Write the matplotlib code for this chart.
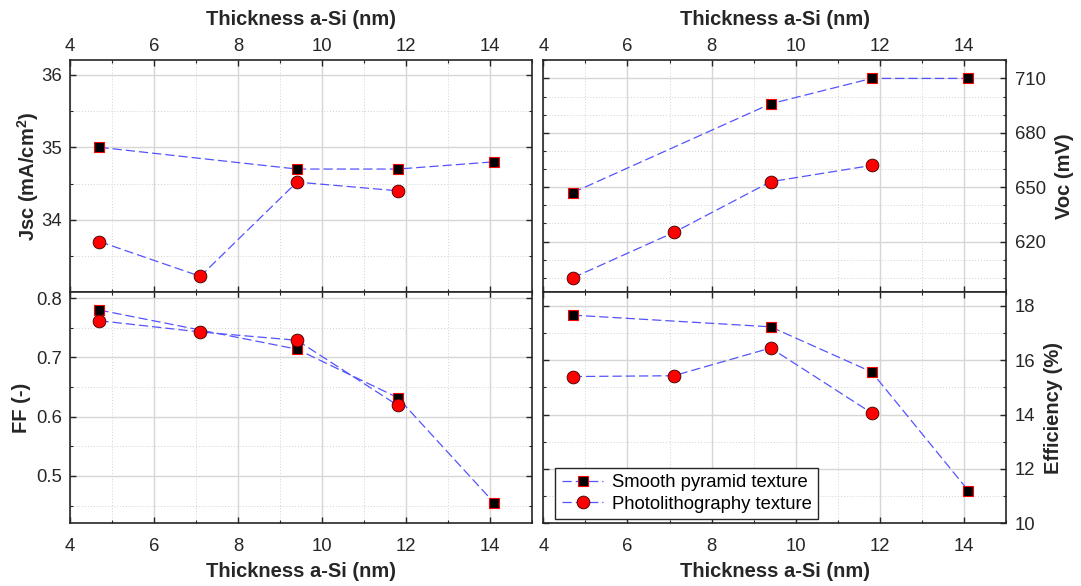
import matplotlib
matplotlib.use("Agg")
import matplotlib.pyplot as plt
from matplotlib.ticker import MultipleLocator, FixedLocator

plt.rcParams['font.family'] = ['Liberation Sans', 'DejaVu Sans']
plt.rcParams['mathtext.fontset'] = 'custom'
plt.rcParams['mathtext.rm'] = 'Liberation Sans'
plt.rcParams['mathtext.bf'] = 'Liberation Sans:bold'

# Thickness of the a-Si layer (nm) for each texture series
thickness_smooth = [4.7, 9.4, 11.8, 14.1]
thickness_photo = [4.7, 7.1, 9.4, 11.8]

# Short-circuit current density (mA/cm2)
jsc_smooth = [35.0, 34.7, 34.7, 34.8]
jsc_photo = [33.7, 33.22, 34.52, 34.40]

# Open-circuit voltage (mV)
voc_smooth = [647, 696, 710, 710]
voc_photo = [600, 625, 653, 662]

# Fill factor (-)
ff_smooth = [0.78, 0.714, 0.632, 0.454]
ff_photo = [0.762, 0.743, 0.729, 0.619]

# Efficiency (%)
eff_smooth = [17.66, 17.23, 15.57, 11.2]
eff_photo = [15.40, 15.43, 16.45, 14.06]

series_labels = ["Smooth pyramid texture", "Photolithography texture"]
xlabel = "Thickness a-Si (nm)"

# Labelled y ticks of each panel
jsc_ticks = [34, 35, 36]
voc_ticks = [620, 650, 680, 710]
ff_ticks = [0.5, 0.6, 0.7, 0.8]
eff_ticks = [10, 12, 14, 16, 18]

FS = 13.3
LABEL_FS = 14.5
LINE_COLOR = (0.33, 0.33, 1.0)
DASH = (0, (7.4, 3.2))
SPINE = '#262626'

W, H = 1081, 586
fig = plt.figure(figsize=(W / 100, H / 100), dpi=100)


def px_axes(x0, y0, x1, y1):
    return fig.add_axes([x0 / W, 1 - y1 / H, (x1 - x0) / W, (y1 - y0) / H])


ax_jsc = px_axes(70, 60.3, 532.3, 292.3)
ax_voc = px_axes(543.3, 60.3, 1006.3, 292.3)
ax_ff = px_axes(70, 292.3, 532.3, 523.3)
ax_eff = px_axes(543.3, 292.3, 1006.3, 523.3)


def draw(ax, ys, yp):
    ax.plot(thickness_smooth, ys, linestyle=DASH, color=LINE_COLOR, lw=0.9,
            marker='s', ms=6.7, mfc='black', mec='red', mew=0.8,
            label=series_labels[0], zorder=3)
    ax.plot(thickness_photo, yp, linestyle=DASH, color=LINE_COLOR, lw=0.9,
            marker='o', ms=9.2, mfc='red', mec='#3a0000', mew=0.6,
            label=series_labels[1], zorder=4)


def style(ax, ylim, ticks, minor, top, right):
    ax.set_xlim(4, 15)
    ax.set_ylim(*ylim)
    ax.xaxis.set_major_locator(MultipleLocator(2))
    ax.xaxis.set_minor_locator(MultipleLocator(1))
    ax.yaxis.set_major_locator(FixedLocator(ticks))
    ax.yaxis.set_minor_locator(MultipleLocator(minor))
    ax.grid(which='major', color='#d6d6d6', lw=1.0, ls='-', zorder=0)
    ax.grid(which='minor', color='#d2d2d2', lw=0.7, ls=(0, (1, 2)), zorder=0)
    ax.set_axisbelow(True)
    for s in ax.spines.values():
        s.set_color(SPINE)
        s.set_linewidth(1.2)
    ax.tick_params(which='both', direction='in', top=True, bottom=True, left=True,
                   right=True, color=SPINE, labelsize=FS, labelcolor='#262626')
    ax.tick_params(which='major', length=4.0, width=1.0)
    ax.tick_params(which='minor', length=2.2, width=0.8)
    if top:
        ax.tick_params(axis='x', labeltop=True, labelbottom=False, pad=4)
        ax.xaxis.set_label_position('top')
        ax.set_xlabel(xlabel, fontsize=LABEL_FS, fontweight='bold', color='#262626',
                      labelpad=9.5)
    else:
        ax.tick_params(axis='x', labeltop=False, labelbottom=True, pad=10.3)
        ax.set_xlabel(xlabel, fontsize=LABEL_FS, fontweight='bold', color='#262626',
                      labelpad=5.3)
    if right:
        ax.tick_params(axis='y', labelright=True, labelleft=False, pad=6)
        ax.yaxis.set_label_position('right')
    else:
        ax.tick_params(axis='y', labelright=False, labelleft=True, pad=6)


draw(ax_jsc, jsc_smooth, jsc_photo)
style(ax_jsc, (33, 36.2), jsc_ticks, 0.5, top=True, right=False)
ax_jsc.set_ylabel(r'Jsc (mA/cm$^{\mathbf{2}}$)', fontsize=LABEL_FS, fontweight='bold',
                  color='#262626', labelpad=0)

draw(ax_voc, voc_smooth, voc_photo)
style(ax_voc, (592, 720), voc_ticks, 10, top=True, right=True)
ax_voc.set_ylabel('Voc (mV)', fontsize=LABEL_FS, fontweight='bold', color='#262626',
                  labelpad=7)

draw(ax_ff, ff_smooth, ff_photo)
style(ax_ff, (0.42, 0.81), ff_ticks, 0.05, top=False, right=False)
ax_ff.set_ylabel('FF (-)', fontsize=LABEL_FS, fontweight='bold', color='#262626',
                 labelpad=3.5)

draw(ax_eff, eff_smooth, eff_photo)
style(ax_eff, (10, 18.5), eff_ticks, 1, top=False, right=True)
ax_eff.set_ylabel('Efficiency (%)', fontsize=LABEL_FS, fontweight='bold', color='#262626',
                  labelpad=6.5)

leg = ax_eff.legend(loc='lower left', bbox_to_anchor=(0.026, 0.017), borderaxespad=0,
                    fontsize=FS, frameon=True, fancybox=False, framealpha=1,
                    edgecolor='#262626', handlelength=2.25, labelspacing=0.25,
                    borderpad=0.35, handletextpad=0.45)
leg.get_frame().set_linewidth(1.0)

fig.savefig('out.png', dpi=100)
